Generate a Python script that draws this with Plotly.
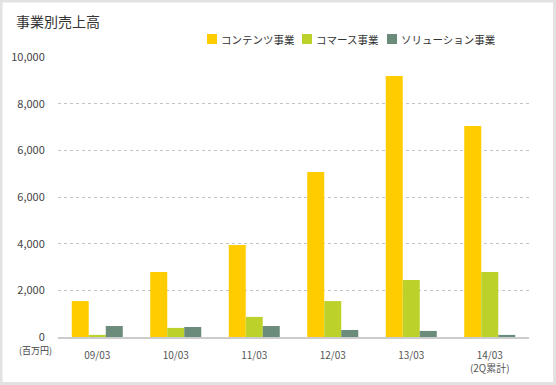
import plotly.graph_objects as go

categories = ["09/03", "10/03", "11/03", "12/03", "13/03", "14/03<br>(2Q累計)"]
contents = [1540, 2790, 3940, 7070, 11190, 9040]
commerce = [90, 390, 860, 1540, 2440, 2790]
solution = [470, 430, 470, 300, 260, 90]
series_names = ["コンテンツ事業", "コマース事業", "ソリューション事業"]
series_colors = ["#ffcc00", "#bcd22a", "#6b8b7b"]
tick_vals = [0, 2000, 4000, 6000, 8000, 10000, 12000]
tick_text = ["0", "2,000", "4,000", "6,000", "6,000", "8,000", "10,000"]

FONT = "Noto Sans CJK JP"
W, H = 556, 385
L, R, T, B = 58, 27, 57, 48

fig = go.Figure()
for name, vals, col in zip(series_names, [contents, commerce, solution], series_colors):
    fig.add_trace(go.Bar(name=name, x=categories, y=vals, marker_color=col, marker_line_width=0))

pw = W - L - R
ph = H - T - B

def px_x(x):
    return (x - L) / pw

def px_y(y):
    return (H - B - y) / ph

# custom legend (squares + text)
legend_x = [207, 302, 387]
shapes = []
annotations = []
for lx, name, col in zip(legend_x, series_names, series_colors):
    shapes.append(dict(type="rect", xref="paper", yref="paper",
                       x0=px_x(lx), x1=px_x(lx + 10), y0=px_y(44), y1=px_y(34),
                       line=dict(width=0), fillcolor=col))
    annotations.append(dict(text=name, x=px_x(lx + 12), y=px_y(39.5), xref="paper", yref="paper",
                            showarrow=False, xanchor="left", yanchor="middle",
                            font=dict(family=FONT, size=10.5, color="#333")))

annotations.append(dict(text="(百万円)", x=px_x(35), y=px_y(350), xref="paper", yref="paper",
                        showarrow=False, xanchor="center", yanchor="middle",
                        font=dict(family=FONT, size=9, color="#444")))
shapes.append(dict(type="rect", xref="paper", yref="paper",
                   x0=px_x(1), x1=px_x(W - 1.5), y0=px_y(1), y1=px_y(H - 1.5),
                   line=dict(color="#e2e2e2", width=3), fillcolor="rgba(0,0,0,0)", layer="above"))

fig.update_layout(
    width=W, height=H,
    margin=dict(l=L, r=R, t=T, b=B, autoexpand=False),
    paper_bgcolor="white", plot_bgcolor="white",
    barmode="group", bargap=0.35, bargroupgap=0,
    font=dict(family=FONT, size=10, color="#444"),
    title=dict(text="事業別売上高", x=16 / W, xanchor="left", y=1 - 22 / H, yanchor="middle",
               font=dict(family=FONT, size=14, color="#333")),
    showlegend=False,
    xaxis=dict(showgrid=False, showline=True, linecolor="#cccccc", linewidth=2,
               ticks="outside", ticklen=8, tickcolor="rgba(0,0,0,0)", automargin=False,
               tickfont=dict(family=FONT, size=10, color="#555")),
    yaxis=dict(range=[0, 12000], tickvals=tick_vals, ticktext=tick_text,
               showgrid=True, gridcolor="#c4c4c4", griddash="dot", gridwidth=1,
               zeroline=False, showline=False, automargin=False,
               ticks="outside", ticklen=10, tickcolor="rgba(0,0,0,0)",
               tickfont=dict(family=FONT, size=11, color="#444")),
    annotations=annotations,
    shapes=shapes,
)

fig.write_html("out.html", config={"displayModeBar": False},
               post_script="document.body.style.margin='0';document.body.style.overflow='hidden';")
